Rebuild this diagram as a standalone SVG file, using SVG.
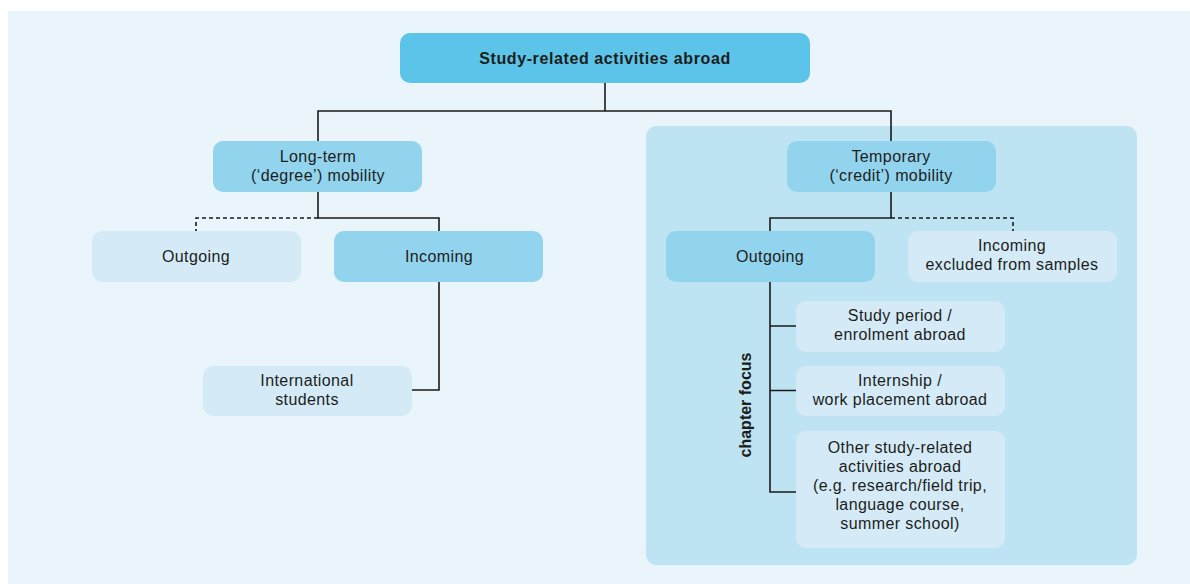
<svg xmlns="http://www.w3.org/2000/svg" width="1190" height="584" viewBox="0 0 1190 584">
<style>
text{font-family:"Liberation Sans",Arial,sans-serif;font-size:16px;fill:#1d1d1b;text-anchor:middle;letter-spacing:0.4px}
.b{font-weight:bold;letter-spacing:0.6px}
.top{fill:#5bc4e8}
.mid{fill:#92d4ee}
.lt{fill:#d4ebf7}
.ln{fill:none;stroke:#1a1a1a;stroke-width:1.6}
.ds{stroke-dasharray:4 3}
</style>
<rect x="8" y="11" width="1182" height="573" fill="#eaf4fb"/>
<rect id="focus-area" x="646" y="126" width="491" height="439" rx="11" fill="#bee3f3"/>
<g id="connectors">
<path class="ln" d="M605 83V111M318 141V111H891V141"/>
<path class="ln" d="M318 192V218H439V231"/>
<path class="ln ds" d="M318 218H196V231"/>
<path class="ln" d="M439 282V390H412"/>
<path class="ln" d="M891 192V218H770V231"/>
<path class="ln ds" d="M891 218H1013V231"/>
<path class="ln" d="M770 282V492H796M770 326H796M770 390.5H796"/>
</g>
<g id="n-root"><rect class="top" x="400" y="33" width="410" height="50" rx="10"/><text class="b" x="605" y="63.5">Study-related activities abroad</text></g>
<g id="n-longterm"><rect class="mid" x="213" y="141" width="209" height="51" rx="10"/><text x="318" y="162">Long-term</text><text x="318" y="181">(‘degree’) mobility</text></g>
<g id="n-temporary"><rect class="mid" x="787" y="141" width="209" height="51" rx="10"/><text x="891" y="162">Temporary</text><text x="891" y="181">(‘credit’) mobility</text></g>
<g id="n-out-left"><rect class="lt" x="92" y="231" width="209" height="51" rx="10"/><text x="196" y="262">Outgoing</text></g>
<g id="n-in-left"><rect class="mid" x="334" y="231" width="209" height="51" rx="10"/><text x="439" y="262">Incoming</text></g>
<g id="n-intl"><rect class="lt" x="203" y="366" width="209" height="50" rx="10"/><text x="307" y="386">International</text><text x="307" y="405">students</text></g>
<g id="n-out-right"><rect class="mid" x="666" y="231" width="209" height="51" rx="10"/><text x="770" y="262">Outgoing</text></g>
<g id="n-in-right"><rect class="lt" x="908" y="231" width="209" height="51" rx="10"/><text x="1012" y="251">Incoming</text><text x="1012" y="270">excluded from samples</text></g>
<g id="n-study"><rect class="lt" x="796" y="301" width="209" height="51" rx="10"/><text x="900" y="321">Study period /</text><text x="900" y="340">enrolment abroad</text></g>
<g id="n-intern"><rect class="lt" x="796" y="366" width="209" height="50" rx="10"/><text x="900" y="386">Internship /</text><text x="900" y="405">work placement abroad</text></g>
<g id="n-other"><rect class="lt" x="796" y="431" width="209" height="117" rx="10"/><text x="900" y="453">Other study-related</text><text x="900" y="472">activities abroad</text><text x="900" y="491">(e.g. research/field trip,</text><text x="900" y="510">language course,</text><text x="900" y="529">summer school)</text></g>
<g id="label-focus"><text class="b" transform="translate(751 405) rotate(-90)" style="letter-spacing:0">chapter focus</text></g>
</svg>
